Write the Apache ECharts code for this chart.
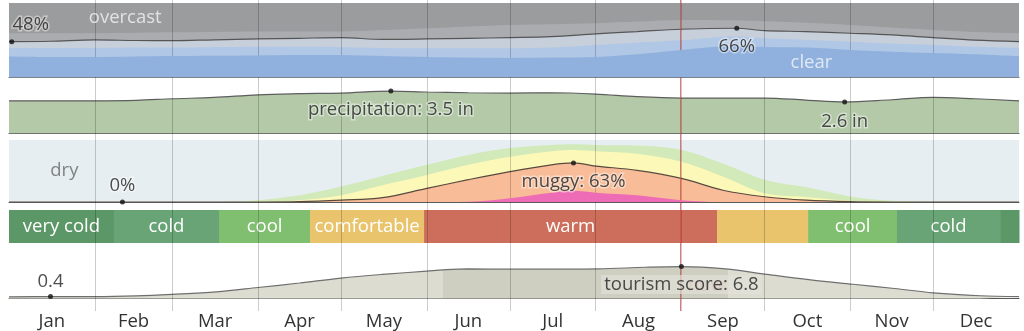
<!DOCTYPE html>
<html><head><meta charset="utf-8">
<script src="https://cdn.jsdelivr.net/npm/echarts@6/dist/echarts.min.js"></script>
<style>html,body{margin:0;padding:0;background:#fff}#c{width:1024px;height:331px}</style>
</head><body><div id="c"></div><script>
// ---------- data ----------
const monthLabels = ['Jan','Feb','Mar','Apr','May','Jun','Jul','Aug','Sep','Oct','Nov','Dec'];
const monthMids = [15.5, 45, 74.5, 105, 135.5, 166, 196.5, 227.5, 258, 288.5, 319, 349.5];
const monthBounds = [31, 59, 90, 120, 151, 181, 212, 243, 273, 304, 334];
const nowDay = 242.5;

// cloud cover (% of time, boundaries measured from bottom = clear)
const cloudDays   = [0, 15, 31, 46, 59, 74, 90, 105, 120, 135, 151, 166, 181, 196, 212, 227, 243, 263, 273, 288, 304, 319, 334, 349, 365];
const cloudClear  = [28, 27.4, 27.4, 28, 28.5, 29, 29.5, 30, 30, 28.5, 27.4, 26.5, 26, 26.5, 27.4, 31, 36.8, 42, 40.8, 40, 36.8, 34.5, 32.7, 31, 28.5];
const cloudMostly = [39.5, 39.5, 39.5, 40, 40, 40.5, 41, 41, 40.5, 39.5, 39, 39, 39, 40, 43.5, 47, 50, 55, 52.6, 50.5, 48, 45.5, 43.5, 41, 39.5];
const cloudPartly = [48, 48.5, 50.3, 49.5, 49.3, 50.5, 51.6, 52.5, 53.4, 51, 51.6, 52.5, 53.4, 54.7, 58.5, 61.5, 64.7, 66, 62.8, 61.5, 59.3, 57, 53.4, 50, 48];
const cloudMostlyCloudy = [59.3, 59.3, 59.3, 60, 60.5, 61, 61.5, 61.5, 61.5, 63.5, 66, 68.5, 70.5, 71.5, 72.8, 75, 77.2, 76.8, 75.5, 73.5, 70.5, 67, 63.7, 61, 59.3];
const cloudNotes = [[1, 48, '48%'], [263, 66, '66%']];

// precipitation (inches)
const precipDays = [0, 15, 31, 46, 59, 74, 90, 105, 120, 138, 151, 166, 181, 196, 212, 227, 243, 258, 273, 288, 302, 319, 334, 349, 365];
const precipVals = [2.69, 2.69, 2.69, 2.73, 2.86, 2.97, 3.19, 3.28, 3.33, 3.5, 3.42, 3.36, 3.33, 3.36, 3.25, 3.03, 2.92, 2.92, 2.92, 2.75, 2.6, 2.78, 2.97, 2.86, 2.69];
const precipNotes = [[138, 3.5, 'precipitation: 3.5 in'], [302, 2.6, '2.6 in']];

// humidity comfort levels (% of time)
const humidDays   = [0, 60, 80, 90, 105, 120, 135, 151, 166, 181, 196, 204, 212, 227, 243, 258, 273, 288, 304, 319, 334, 365];
const humidHumid  = [0, 0, 0.5, 3, 11, 25, 42, 60, 76, 87, 92, 93, 92, 91, 84, 62, 36, 24, 9, 2, 0.3, 0];
const humidSticky = [0, 0, 0, 0.5, 3, 11, 27, 43.5, 60, 73, 82, 84, 82, 78, 65, 41, 14, 8, 2, 0.3, 0, 0];
const humidMuggy  = [0, 0, 0, 0, 0.5, 3, 7, 22, 36, 49, 60, 63, 58, 51, 38, 19, 8.5, 3, 0.5, 0, 0, 0];
const humidOppr   = [0, 0, 0, 0, 0, 0, 0, 0, 0.5, 6, 15, 18, 15, 11, 3, 0, 0, 0, 0, 0, 0, 0];
const humidNotes = [[41, 0, '0%'], [204, 63, 'muggy: 63%']];

// temperature bands [start day, end day]
const tempNames  = ['very cold', 'cold', 'cool', 'comfortable', 'warm', 'comfortable', 'cool', 'cold', 'very cold'];
const tempStarts = [0, 37.9, 75.9, 108.8, 150, 255.9, 288.8, 320.9, 358.2];
const tempEnds   = [37.9, 75.9, 108.8, 150, 255.9, 288.8, 320.9, 358.2, 365];

// tourism score
const tourDays = [0, 15, 31, 46, 59, 75, 90, 105, 120, 135, 151, 157, 166, 182, 196, 213, 230, 243, 259, 274, 289, 305, 320, 334, 351, 365];
const tourVals = [0.35, 0.4, 0.4, 0.55, 0.88, 1.42, 2.34, 3.3, 4.35, 5.13, 5.82, 6.1, 6.3, 6.23, 6.25, 6.3, 6.65, 6.8, 6.3, 5.13, 4.0, 3.03, 2.13, 1.21, 0.59, 0.38];
const tourBest = [157, 260];
const tourNotes = [[15, 0.4, '0.4'], [243, 6.8, 'tourism score: 6.8']];

// ---------- chart ----------
const FONT = '"Open Sans", "Noto Sans", sans-serif';
const chart = echarts.init(document.getElementById('c'));
const gridDefs = [
  {top: 3, height: 74.3, show: true, backgroundColor: '#9b9c9e', borderWidth: 0},
  {top: 85, height: 48.3},
  {top: 140, height: 62, show: true, backgroundColor: '#e6eef2', borderWidth: 0},
  {top: 210, height: 33},
  {top: 251.5, height: 47},
  {top: 0, height: 312}
].map(g => Object.assign({left: 9, right: 5}, g));
const yMax = [100, 4, 100, 1, 10, 1];
const axisLineShow = [true, true, true, false, true, false];

const xAxes = gridDefs.map((g, i) => ({
  type: 'value', gridIndex: i, min: 0, max: 365,
  axisLine: {show: axisLineShow[i], onZero: false, lineStyle: {color: '#5a5a5a', width: 1}},
  axisTick: {show: false}, splitLine: {show: false},
  axisLabel: {show: false}
}));
xAxes[5].axisLabel = {
  show: true, customValues: monthMids, margin: 1,
  color: '#333', fontSize: 18.5, fontFamily: FONT,
  formatter: v => monthLabels[monthMids.indexOf(v)]
};
const yAxes = gridDefs.map((g, i) => ({
  type: 'value', gridIndex: i, min: 0, max: yMax[i], show: false, splitLine: {show: false}
}));

const series = [];
function area(gi, days, vals, fill, lineColor, z) {
  series.push({
    type: 'line', xAxisIndex: gi, yAxisIndex: gi, silent: true,
    data: days.map((d, i) => [d, vals[i]]), smooth: 0.35, symbol: 'none', z: z,
    lineStyle: lineColor ? {color: lineColor, width: 1.2} : {width: 0, opacity: 0},
    areaStyle: fill ? {color: fill, opacity: 1} : {opacity: 1}
  });
  return series.length - 1;
}
const LBL = 18.5;
const halo = {textBorderColor: 'rgba(255,255,255,0.55)', textBorderWidth: 3};
function notes(gi, arr, pos, dist, extra) {
  series.push({
    type: 'scatter', xAxisIndex: gi, yAxisIndex: gi, silent: true, z: 60,
    symbolSize: 5, itemStyle: {color: '#111'},
    data: arr.map((n, k) => ({
      value: [n[0], n[1]],
      label: Object.assign({
        show: true, formatter: n[2], position: pos[k], distance: dist[k],
        color: '#222', fontSize: LBL, fontFamily: FONT
      }, halo, extra ? extra[k] : {})
    }))
  });
}
function text(gi, day, val, str, color) {
  series.push({
    type: 'scatter', xAxisIndex: gi, yAxisIndex: gi, silent: true, z: 40, symbolSize: 0,
    data: [{value: [day, val], label: {show: true, position: 'inside', formatter: str, color: color, fontSize: LBL, fontFamily: FONT}}]
  });
}

// cloud
area(0, cloudDays, cloudMostlyCloudy, '#abacaf', null, 2);
area(0, cloudDays, cloudPartly, '#c7cfdb', '#555', 3);
area(0, cloudDays, cloudMostly, '#b0c7e5', null, 4);
area(0, cloudDays, cloudClear, '#90b1de', null, 5);
notes(0, cloudNotes, ['top', 'bottom'], [5, 6], [{offset: [19, 0]}, {}]);
text(0, 42, 80, 'overcast', '#f4f4f4');
text(0, 290, 19, 'clear', '#f4f6fa');

// precipitation
area(1, precipDays, precipVals, '#b3c9a8', '#5e5e5e', 2);
notes(1, precipNotes, ['bottom', 'bottom'], [7, 8]);

// humidity
area(2, humidDays, humidHumid, '#d2e9b9', null, 2);
area(2, humidDays, humidSticky, '#fbf8b8', null, 3);
area(2, humidDays, humidMuggy, '#f8bd98', '#5a4a40', 4);
area(2, humidDays, humidOppr, '#ee6cb5', null, 5);
text(2, 20, 50, 'dry', '#666');
notes(2, humidNotes, ['top', 'bottom'], [4, 7]);

// temperature bands
const tempColors = {'very cold': '#5c9767', 'cold': '#68a476', 'cool': '#80bf6f', 'comfortable': '#e9c46c', 'warm': '#cc6e5b'};
series.push({
  type: 'custom', xAxisIndex: 3, yAxisIndex: 3, silent: true, z: 2,
  data: tempNames.map((n, i) => [tempStarts[i], tempEnds[i]]),
  renderItem: function (params, api) {
    const a = api.coord([api.value(0), 1]);
    const b = api.coord([api.value(1), 0]);
    const w = b[0] - a[0];
    const name = tempNames[params.dataIndex];
    const children = [{type: 'rect', shape: {x: a[0], y: a[1], width: w + 0.5, height: b[1] - a[1]}, style: {fill: tempColors[name]}}];
    if (name.length * 9 < w) {
      children.push({type: 'text', style: {text: name, x: a[0] + w / 2, y: (a[1] + b[1]) / 2, align: 'center', verticalAlign: 'middle', fill: '#fff', font: '18.5px ' + FONT}});
    }
    return {type: 'group', children: children};
  }
});

// tourism
const tourIdx = area(4, tourDays, tourVals, null, '#6f6f6f', 2);
text(4, 252, 2.8, 'now', 'rgba(225,90,90,0.5)');
notes(4, tourNotes, ['top', 'bottom'], [3, 6], [{}, {backgroundColor: 'rgba(226,226,218,0.82)', padding: [0, 3], textBorderWidth: 0}]);

// overlay month separators + now line
series.push({
  type: 'line', xAxisIndex: 5, yAxisIndex: 5, silent: true, z: 50,
  data: [[0, 0]], symbol: 'none', lineStyle: {width: 0, opacity: 0},
  markLine: {
    silent: true, symbol: ['none', 'none'], label: {show: false}, animation: false,
    lineStyle: {color: 'rgba(0,0,0,0.2)', width: 1, type: 'solid'},
    data: monthBounds.map(d => ({xAxis: d})).concat([{xAxis: nowDay, lineStyle: {color: 'rgba(225,70,70,0.75)', width: 1, type: 'solid'}}])
  }
});

chart.setOption({
  animation: false,
  grid: gridDefs, xAxis: xAxes, yAxis: yAxes,
  visualMap: [{
    type: 'piecewise', show: false, dimension: 0, seriesIndex: tourIdx,
    pieces: [{lt: tourBest[0], color: '#dcdcd1'}, {gte: tourBest[0], lte: tourBest[1], color: '#cfcfc1'}, {gt: tourBest[1], color: '#dcdcd1'}]
  }],
  series: series
});
</script></body></html>
